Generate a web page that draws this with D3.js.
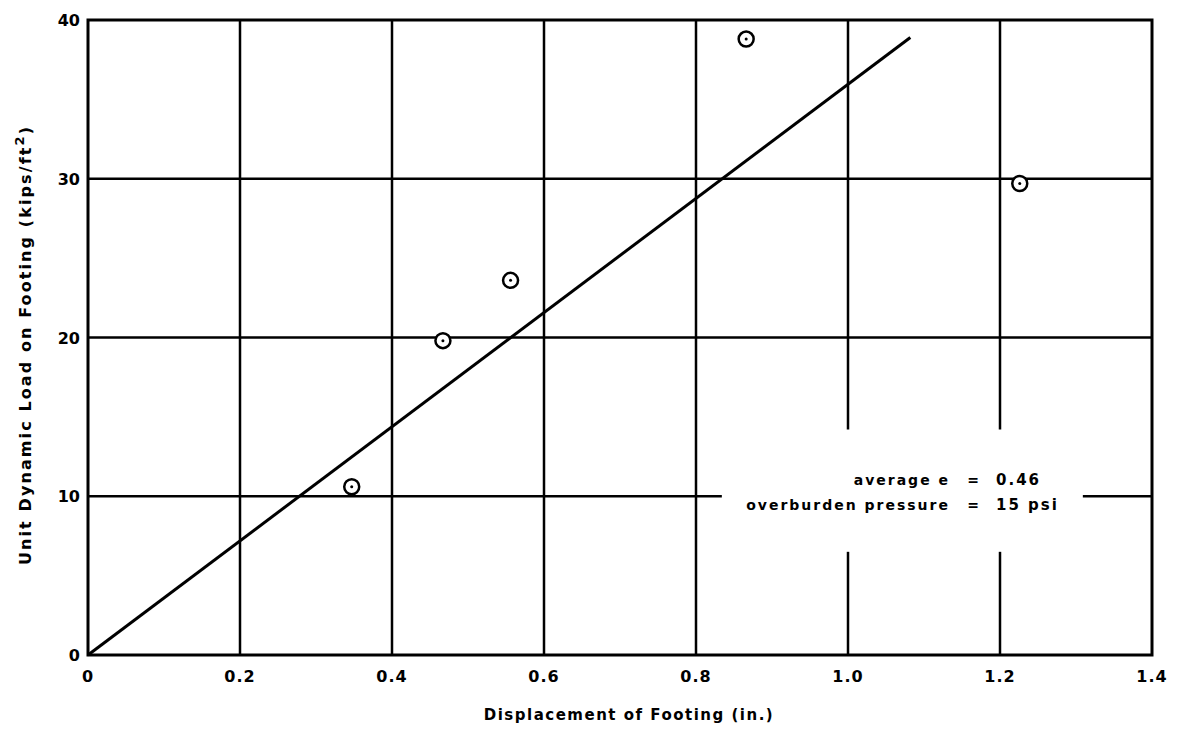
<!DOCTYPE html>
<html>
<head>
<meta charset="utf-8">
<script src="https://cdn.jsdelivr.net/npm/d3@7"></script>
<style>
  body { margin: 0; background: #fff; }
  text { font-family: "DejaVu Sans", sans-serif; font-weight: bold; fill: #000; }
</style>
</head>
<body>
<div id="plot"></div>
<script>
var w = 1181,
    h = 737;

// data
var xTicks = [0, 0.2, 0.4, 0.6, 0.8, 1.0, 1.2, 1.4];
var xTickLabels = ['0', '0.2', '0.4', '0.6', '0.8', '1.0', '1.2', '1.4'];
var yTicks = [0, 10, 20, 30, 40];
var displacement = [0.347, 0.467, 0.556, 0.866, 1.226];
var load = [10.6, 19.8, 23.6, 38.8, 29.7];
var fitX = [0, 1.082];
var fitY = [0, 38.9];

var x = d3.scaleLinear().domain([0, 1.4]).range([88, 1152]);
var y = d3.scaleLinear().domain([0, 40]).range([655, 20]);

var svg = d3.select('#plot').append('svg')
    .attr('width', w)
    .attr('height', h);

// gaps in the grid around the note
var noteGapY = [14.2, 6.5];    // vertical lines at 1.0 and 1.2 broken between these
var noteGapX = [0.834, 1.309]; // horizontal line at 10 broken between these

var grid = svg.append('g');

xTicks.slice(1, -1).forEach(function(t){
    if (t === 1.0 || t === 1.2) {
        grid.append('line')
            .attr('x1', x(t)).attr('x2', x(t))
            .attr('y1', y(40)).attr('y2', y(noteGapY[0]));
        grid.append('line')
            .attr('x1', x(t)).attr('x2', x(t))
            .attr('y1', y(noteGapY[1])).attr('y2', y(0));
    } else {
        grid.append('line')
            .attr('x1', x(t)).attr('x2', x(t))
            .attr('y1', y(40)).attr('y2', y(0));
    }
});

yTicks.slice(1, -1).forEach(function(t){
    if (t === 10) {
        grid.append('line')
            .attr('x1', x(0)).attr('x2', x(noteGapX[0]))
            .attr('y1', y(t)).attr('y2', y(t));
        grid.append('line')
            .attr('x1', x(noteGapX[1])).attr('x2', x(1.4))
            .attr('y1', y(t)).attr('y2', y(t));
    } else {
        grid.append('line')
            .attr('x1', x(0)).attr('x2', x(1.4))
            .attr('y1', y(t)).attr('y2', y(t));
    }
});

grid.selectAll('line')
    .style('stroke', '#000')
    .style('stroke-width', 2.5);

// frame
svg.append('rect')
    .attr('x', x(0))
    .attr('y', y(40))
    .attr('width', x(1.4) - x(0))
    .attr('height', y(0) - y(40))
    .style('fill', 'none')
    .style('stroke', '#000')
    .style('stroke-width', 3);

// tick labels
svg.append('g')
    .selectAll('text')
    .data(xTicks)
    .enter()
    .append('text')
    .attr('x', function(d){ return x(d); })
    .attr('y', 682)
    .attr('text-anchor', 'middle')
    .style('font-size', '16px')
    .style('letter-spacing', '1px')
    .text(function(d, i){ return xTickLabels[i]; });

svg.append('g')
    .selectAll('text')
    .data(yTicks)
    .enter()
    .append('text')
    .attr('x', 80)
    .attr('y', function(d){ return y(d) + 6; })
    .attr('text-anchor', 'end')
    .style('font-size', '16px')
    .text(function(d){ return d; });

// axis titles
svg.append('text')
    .attr('x', 629)
    .attr('y', 720)
    .attr('text-anchor', 'middle')
    .style('font-size', '15px')
    .style('letter-spacing', '1.5px')
    .text('Displacement of Footing (in.)');

var yTitle = svg.append('text')
    .attr('transform', 'translate(31,345) rotate(-90)')
    .attr('text-anchor', 'middle')
    .style('font-size', '16px')
    .style('letter-spacing', '2.1px');
yTitle.append('tspan').text('Unit Dynamic Load on Footing (kips/ft');
yTitle.append('tspan').attr('dy', -7).style('font-size', '13px').text('2');
yTitle.append('tspan').attr('dy', 7).text(')');

// fitted line
var line = d3.line()
    .x(function(d){ return x(d[0]); })
    .y(function(d){ return y(d[1]); });

svg.append('path')
    .datum(d3.zip(fitX, fitY))
    .attr('d', line)
    .style('fill', 'none')
    .style('stroke', '#000')
    .style('stroke-width', 3);

// data points
var pts = svg.append('g')
    .selectAll('g')
    .data(d3.zip(displacement, load))
    .enter()
    .append('g')
    .attr('transform', function(d){ return 'translate(' + x(d[0]) + ',' + y(d[1]) + ')'; });

pts.append('circle')
    .attr('r', 7.5)
    .style('fill', '#fff')
    .style('stroke', '#000')
    .style('stroke-width', 2.5);

pts.append('circle')
    .attr('r', 1.5)
    .style('fill', '#000');

// note
var note = svg.append('g').style('font-size', '14px').style('letter-spacing', '2px');
note.append('text').attr('x', 950).attr('y', 485).attr('text-anchor', 'end').text('average e');
note.append('text').attr('x', 950).attr('y', 510).attr('text-anchor', 'end').text('overburden pressure');
note.append('text').attr('x', 974).attr('y', 485).attr('text-anchor', 'middle').text('=');
note.append('text').attr('x', 974).attr('y', 510).attr('text-anchor', 'middle').text('=');
note.append('text').attr('x', 996).attr('y', 485).style('font-size', '15px').text('0.46');
note.append('text').attr('x', 996).attr('y', 510).style('font-size', '15px').text('15 psi');
</script>
</body>
</html>
